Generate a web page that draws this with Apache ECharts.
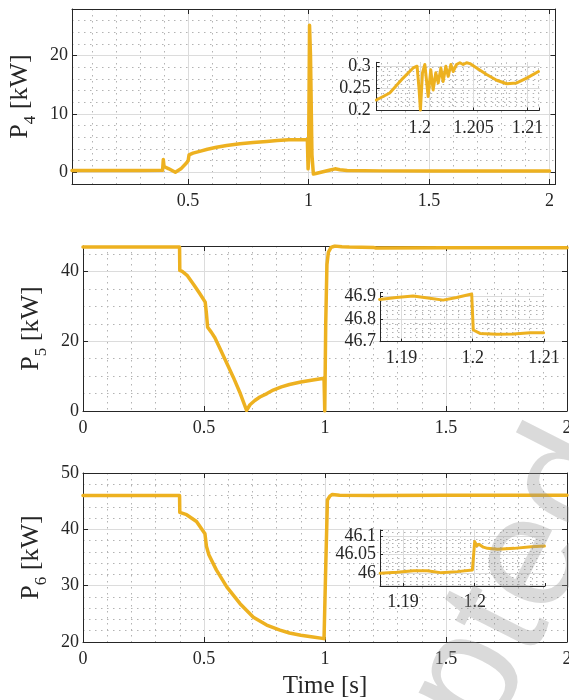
<!DOCTYPE html>
<html>
<head>
<meta charset="utf-8">
<script src="https://cdn.jsdelivr.net/npm/echarts@6/dist/echarts.min.js"></script>
<style>
  html, body { margin: 0; padding: 0; background: #fff; }
  #chart { width: 569px; height: 700px; }
</style>
</head>
<body>
<div id="chart"></div>
<script>
// ---------- P4 ----------
const p4Time  = [0.018, 0.1, 0.2, 0.3, 0.394, 0.397, 0.4, 0.42, 0.447, 0.47, 0.493, 0.5, 0.504, 0.52, 0.548, 0.58, 0.618, 0.66, 0.715, 0.77, 0.826, 0.87, 0.918, 0.96, 0.995, 0.998, 1.0, 1.004, 1.008, 1.014, 1.02, 1.03, 1.06, 1.09, 1.11, 1.13, 1.16, 1.3, 1.5, 1.7, 1.9, 2.0];
const p4Power = [0.3, 0.3, 0.3, 0.3, 0.35, 2.2, 1.0, 0.6, 0.0, 0.6, 1.6, 2.0, 3.0, 3.3, 3.6, 3.95, 4.3, 4.6, 4.9, 5.1, 5.3, 5.45, 5.6, 5.6, 5.6, 0.6, 2.0, 25.2, 20, 3, -0.3, -0.2, 0.1, 0.4, 0.6, 0.45, 0.3, 0.25, 0.25, 0.25, 0.25, 0.25];
const p4ZoomTime  = [1.19597, 1.19721, 1.19845, 1.19938, 1.19975, 1.19994, 1.20006, 1.20025, 1.20047, 1.20078, 1.20102, 1.20124, 1.20149, 1.20171, 1.20196, 1.20217, 1.20242, 1.20264, 1.20289, 1.2031, 1.20341, 1.20372, 1.20403, 1.20435, 1.20466, 1.20528, 1.20621, 1.20714, 1.20807, 1.209, 1.20993, 1.21102];
const p4ZoomPower = [0.224, 0.240, 0.274, 0.297, 0.301, 0.247, 0.201, 0.286, 0.305, 0.232, 0.293, 0.247, 0.286, 0.263, 0.297, 0.266, 0.301, 0.278, 0.305, 0.289, 0.305, 0.309, 0.305, 0.309, 0.307, 0.297, 0.282, 0.269, 0.261, 0.263, 0.274, 0.289];

// ---------- P5 ----------
const p5Time  = [0, 0.2, 0.399, 0.4, 0.41, 0.43, 0.46, 0.483, 0.505, 0.51, 0.515, 0.53, 0.545, 0.566, 0.6, 0.621, 0.65, 0.676, 0.69, 0.71, 0.731, 0.76, 0.786, 0.82, 0.853, 0.9, 0.95, 0.996, 0.999, 1.003, 1.008, 1.014, 1.025, 1.041, 1.07, 1.1, 1.2, 1.21, 1.5, 2.0];
const p5Power = [47, 47, 47, 40.3, 40, 38.9, 36, 33.6, 31.2, 28, 24, 22.6, 21, 17.9, 12.8, 9.7, 5, 0.2, 1.8, 3, 4, 5, 6, 6.9, 7.6, 8.3, 8.9, 9.4, 0, 25, 42, 45.5, 46.9, 47.3, 47.1, 47, 46.9, 46.75, 46.8, 46.8];
const p5ZoomTime  = [1.18694, 1.1893, 1.19164, 1.19399, 1.19586, 1.19775, 1.19986, 1.20008, 1.20103, 1.20338, 1.20572, 1.20807, 1.20994];
const p5ZoomPower = [46.888, 46.897, 46.903, 46.893, 46.885, 46.897, 46.912, 46.752, 46.737, 46.733, 46.734, 46.74, 46.74];

// ---------- P6 ----------
const p6Time  = [0, 0.2, 0.399, 0.4, 0.428, 0.469, 0.504, 0.51, 0.52, 0.551, 0.594, 0.649, 0.704, 0.759, 0.814, 0.853, 0.9, 0.95, 0.996, 0.999, 1.004, 1.01, 1.02, 1.03, 1.06, 1.2, 1.5, 2.0];
const p6Power = [46.0, 46.0, 46.0, 43.0, 42.6, 41.4, 39.2, 37.0, 35.5, 32.8, 29.8, 26.8, 24.4, 23.0, 22.1, 21.6, 21.2, 20.9, 20.6, 20.8, 35, 45.2, 45.9, 46.2, 46.05, 46.0, 46.07, 46.07];
const p6ZoomTime  = [1.18682, 1.18916, 1.19149, 1.19337, 1.19523, 1.19757, 1.19968, 1.19995, 1.2, 1.2003, 1.2006, 1.2012, 1.20178, 1.20318, 1.20551, 1.20785, 1.20972];
const p6ZoomPower = [46.0, 46.0027, 46.0071, 46.0071, 46.0018, 46.0045, 46.0089, 46.009, 46.085, 46.074, 46.078, 46.07, 46.0668, 46.0642, 46.0668, 46.0713, 46.0731];

// ---------- tick labels ----------
const timeTicks       = [0, 0.5, 1, 1.5, 2];
const p4Ticks         = [0, 10, 20];
const p5Ticks         = [0, 20, 40];
const p6Ticks         = [20, 30, 40, 50];
const p4ZoomTimeTicks = [1.2, 1.205, 1.21];
const p4ZoomTicks     = [0.2, 0.25, 0.3];
const p5ZoomTimeTicks = [1.19, 1.2, 1.21];
const p5ZoomTicks     = [46.7, 46.8, 46.9];
const p6ZoomTimeTicks = [1.19, 1.2];
const p6ZoomTicks     = [46, 46.05, 46.1];

// ---------- styling ----------
const INK = '#262626';
const MAJOR_GRID = '#dcdcdc';
const MINOR_GRID = '#b3b3b3';
const LINE = '#EDB120';
const FONT = '"Liberation Serif", "Times New Roman", serif';

const zip = (xs, ys) => xs.map((x, i) => [x, ys[i]]);
const onlyTicks = list => v => {
  const hit = list.find(l => Math.abs(l - v) < 1e-7);
  return hit === undefined ? '' : String(hit);
};

const grids = [
  { left: 72,    top: 9,     width: 483.5, height: 175 },   // P4
  { left: 83,    top: 246,   width: 484,   height: 165 },   // P5
  { left: 83,    top: 473,   width: 484,   height: 169 },   // P6
  { left: 376.7, top: 62.3,  width: 162.6, height: 48.2 },  // P4 zoom
  { left: 380,   top: 292.7, width: 164,   height: 49 },    // P5 zoom
  { left: 380,   top: 530,   width: 165,   height: 56 }     // P6 zoom
].map(g => Object.assign({ containLabel: false, outerBoundsMode: 'none', show: false }, g));

const xAxes = [], yAxes = [];

// dotted minor grid, labelled major axis and (for boxed plots) a mirrored tick axis
function addAxes(list, dim, gi, c, boxed, z, tickLen, margin, name) {
  const near = dim === 'x' ? 'bottom' : 'left';
  const far  = dim === 'x' ? 'top' : 'right';
  list.push({
    type: 'value', gridIndex: gi, position: far, min: c.min, max: c.max,
    minInterval: c.minor, maxInterval: c.minor, z: z,
    axisLine: { show: false, onZero: false }, axisTick: { show: false }, axisLabel: { show: false },
    splitLine: { show: true, showMinLine: false, showMaxLine: false,
                 lineStyle: { color: MINOR_GRID, width: 1, type: [1.5, 4.5] } }
  });
  const major = {
    type: 'value', gridIndex: gi, position: near, min: c.min, max: c.max,
    minInterval: c.major, maxInterval: c.major, z: z + 1,
    axisLine: { show: true, onZero: false, lineStyle: { color: INK, width: 1 } },
    axisTick: { show: true, inside: true, length: tickLen, lineStyle: { color: INK, width: 1 } },
    axisLabel: { show: true, formatter: onlyTicks(c.labels), color: INK, fontFamily: FONT,
                 fontSize: 18, margin: margin, showMinLabel: true, showMaxLabel: true, hideOverlap: false },
    splitLine: { show: true, showMinLine: false, showMaxLine: false,
                 lineStyle: { color: MAJOR_GRID, width: 1 } }
  };
  if (name) Object.assign(major, name);
  list.push(major);
  const majorIndex = list.length - 1;
  if (boxed) {
    list.push({
      type: 'value', gridIndex: gi, position: far, min: c.min, max: c.max,
      minInterval: c.major, maxInterval: c.major, z: z + 1,
      axisLine: { show: true, onZero: false, lineStyle: { color: INK, width: 1 } },
      axisTick: { show: true, inside: true, length: tickLen, lineStyle: { color: INK, width: 1 } },
      axisLabel: { show: false }, splitLine: { show: false }
    });
  }
  return majorIndex;
}

const yName = sub => ({
  name: '{m|P}{s|' + sub + '}{m| [kW]}',
  nameLocation: 'middle', nameRotate: 90, nameGap: 25,
  nameTextStyle: {
    color: INK, fontFamily: FONT,
    rich: {
      m: { fontFamily: FONT, fontSize: 26, lineHeight: 26, color: INK },
      s: { fontFamily: FONT, fontSize: 17, lineHeight: 17, padding: [21, 0, 0, 0], color: INK }
    }
  }
});

const panels = [
  { x: { min: 0.018, max: 2.025, major: 0.5, minor: 0.1, labels: timeTicks },
    y: { min: -2, max: 28, major: 10, minor: 2, labels: p4Ticks },
    data: zip(p4Time, p4Power), boxed: true, z: 0, tick: 5, xm: 8, ym: 4, yn: yName('4'), w: 3.5 },
  { x: { min: 0, max: 2, major: 0.5, minor: 0.1, labels: timeTicks },
    y: { min: 0, max: 47.3, major: 20, minor: 5, labels: p5Ticks },
    data: zip(p5Time, p5Power), boxed: true, z: 0, tick: 5, xm: 8, ym: 4, yn: yName('5'), w: 3.5 },
  { x: { min: 0, max: 2, major: 0.5, minor: 0.1, labels: timeTicks },
    y: { min: 20, max: 50, major: 10, minor: 2, labels: p6Ticks },
    data: zip(p6Time, p6Power), boxed: true, z: 0, tick: 5, xm: 8, ym: 4, yn: yName('6'), w: 3.5,
    xn: { name: 'Time [s]', nameLocation: 'middle', nameGap: 32,
          nameTextStyle: { color: INK, fontFamily: FONT, fontSize: 25 } } },
  { x: { min: 1.196, max: 1.2111, major: 0.005, minor: 0.001, labels: p4ZoomTimeTicks },
    y: { min: 0.2, max: 0.31, major: 0.05, minor: 0.01, labels: p4ZoomTicks },
    data: zip(p4ZoomTime, p4ZoomPower), boxed: false, z: 4, tick: 3, xm: 9, ym: 6, w: 3 },
  { x: { min: 1.187, max: 1.21, major: 0.01, minor: 0.002, labels: p5ZoomTimeTicks },
    y: { min: 46.7, max: 46.918, major: 0.1, minor: 0.02, labels: p5ZoomTicks },
    data: zip(p5ZoomTime, p5ZoomPower), boxed: false, z: 4, tick: 3, xm: 8, ym: 4, w: 3 },
  { x: { min: 1.1868, max: 1.2098, major: 0.01, minor: 0.002, labels: p6ZoomTimeTicks },
    y: { min: 45.966, max: 46.116, major: 0.05, minor: 0.01, labels: p6ZoomTicks },
    data: zip(p6ZoomTime, p6ZoomPower), boxed: false, z: 4, tick: 3, xm: 7, ym: 4, w: 3 }
];

const series = panels.map((p, gi) => {
  const xi = addAxes(xAxes, 'x', gi, p.x, p.boxed, p.z, p.tick, p.xm, p.xn);
  const yi = addAxes(yAxes, 'y', gi, p.y, p.boxed, p.z, p.tick, p.ym, p.yn);
  return {
    type: 'line', xAxisIndex: xi, yAxisIndex: yi, data: p.data,
    showSymbol: false, symbol: 'none', silent: true, animation: false, clip: true,
    z: p.z + 3,
    lineStyle: { color: LINE, width: p.w, join: 'round', cap: 'round' }
  };
});

const chart = echarts.init(document.getElementById('chart'), null, { renderer: 'canvas' });
chart.setOption({
  animation: false,
  backgroundColor: '#ffffff',
  grid: grids,
  xAxis: xAxes,
  yAxis: yAxes,
  series: series,
  graphic: [{
    type: 'text', x: 440, y: 740, rotation: 1.1, z: 100, silent: true,
    style: { text: 'Accepted', font: '160px "Liberation Sans", Arial, sans-serif',
             fill: 'rgba(150,150,150,0.35)', align: 'center', verticalAlign: 'middle' }
  }]
});
</script>
</body>
</html>
